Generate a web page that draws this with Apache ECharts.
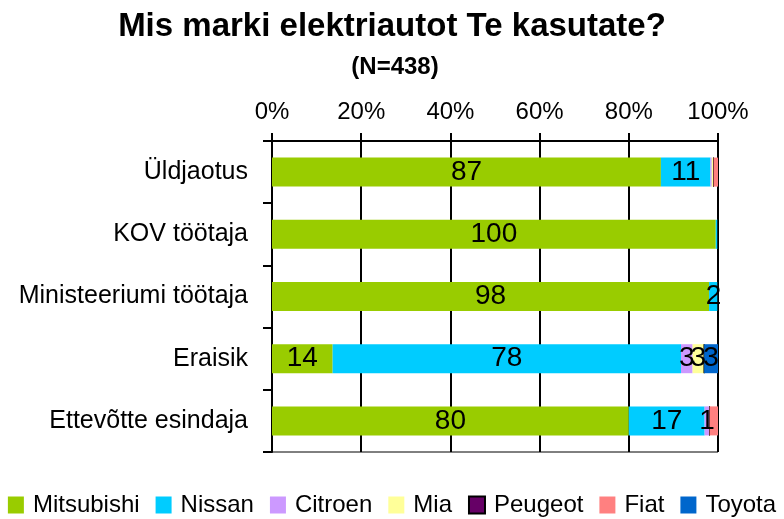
<!DOCTYPE html>
<html>
<head>
<meta charset="utf-8">
<script src="https://cdn.jsdelivr.net/npm/echarts@6/dist/echarts.min.js"></script>
<style>
  html, body { margin: 0; padding: 0; background: #fff; }
  #chart { width: 784px; height: 519px; }
</style>
</head>
<body>
<div id="chart"></div>
<script>
const categories = ['Üldjaotus', 'KOV töötaja', 'Ministeeriumi töötaja', 'Eraisik', 'Ettevõtte esindaja']
const mitsubishi = [87.2, 99.5, 98, 13.6, 80]
const nissan = [11.1, 0.5, 2, 78.1, 17]
const citroen = [0.3, 0, 0, 2.6, 1.1]
const mia = [0.4, 0, 0, 2.6, 0]
const peugeot = [0, 0, 0, 0, 0]
const fiat = [1.0, 0, 0, 0, 1.9]
const toyota = [0, 0, 0, 3.1, 0]
const tickLabels = ['0%', '20%', '40%', '60%', '80%', '100%']

const font = 'Liberation Sans, Arial, sans-serif'
const mychart = echarts.init(document.getElementById('chart'))

const makeSeries = (name, data, color, showLabels = true) => ({
  name,
  type: 'bar',
  stack: 'total',
  data,
  barWidth: 29,
  itemStyle: { color, borderColor: name === 'Peugeot' ? '#000' : color, borderWidth: name === 'Peugeot' ? 1 : 0 },
  label: {
    show: showLabels,
    position: 'inside',
    color: '#000',
    fontSize: 28,
    fontFamily: font,
    formatter: p => (p.value >= 1 ? Math.round(p.value) : '')
  },
  emphasis: { disabled: true }
})

mychart.setOption({
  animation: false,
  title: [{
    text: 'Mis marki elektriautot Te kasutate?',
    left: 'center',
    top: 5,
    textStyle: { fontSize: 33, fontWeight: 'bold', fontFamily: font, color: '#000' }
  }, {
    text: '(N=438)',
    left: 390,
    top: 50,
    textAlign: 'center',
    textStyle: { fontSize: 24, fontWeight: 'bold', fontFamily: font, color: '#000' }
  }],
  legend: {
    bottom: -3,
    left: 'center',
    itemWidth: 16,
    itemHeight: 17,
    itemGap: 16,
    icon: 'rect',
    textStyle: { fontSize: 24, fontFamily: font, color: '#000', padding: [0, 0, 0, 4] },
    data: ['Mitsubishi', 'Nissan', 'Citroen', 'Mia', 'Peugeot', 'Fiat', 'Toyota']
  },
  grid: {
    left: 272,
    right: 66,
    top: 141,
    bottom: 67,
    show: true,
    borderColor: '#000',
    borderWidth: 1
  },
  xAxis: {
    type: 'value',
    position: 'top',
    min: 0,
    max: 100,
    interval: 20,
    axisLine: { show: true, lineStyle: { color: '#000', width: 2 } },
    axisTick: { show: true, length: 8, lineStyle: { color: '#000', width: 2 } },
    splitLine: { show: true, lineStyle: { color: '#000', width: 2 } },
    axisLabel: {
      margin: 17,
      fontSize: 24,
      fontFamily: font,
      color: '#000',
      formatter: v => tickLabels[v / 20]
    }
  },
  yAxis: {
    type: 'category',
    inverse: true,
    data: categories,
    axisLine: { show: true, lineStyle: { color: '#000', width: 2 } },
    axisTick: { show: true, length: 9, lineStyle: { color: '#000', width: 2 } },
    axisLabel: { margin: 24, fontSize: 25, fontFamily: font, color: '#000' }
  },
  series: [
    makeSeries('Mitsubishi', mitsubishi, '#99CC00'),
    makeSeries('Nissan', nissan, '#00CCFF'),
    makeSeries('Citroen', citroen, '#CC99FF'),
    makeSeries('Mia', mia, '#FFFF99'),
    makeSeries('Peugeot', peugeot, '#660066'),
    makeSeries('Fiat', fiat, '#FF8080', false),
    makeSeries('Toyota', toyota, '#0066CC')
  ]
})

window.addEventListener('resize', () => {
  if (mychart) mychart.resize()
})
</script>
</body>
</html>
